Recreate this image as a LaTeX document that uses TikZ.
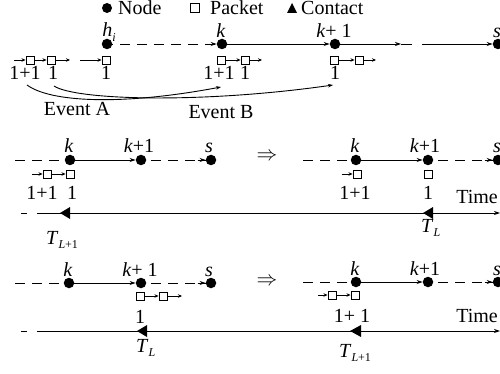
\documentclass[tikz,border=0pt]{standalone}
\usepackage{fontspec}
\setmainfont{Liberation Serif}
\usetikzlibrary{arrows.meta}
\newcommand{\mysub}[1]{\raisebox{-0.5ex}{\fontsize{12}{12}\selectfont #1}}
\begin{document}
\begin{tikzpicture}[x=1pt,y=-1pt,
  font=\fontsize{20}{22}\selectfont,
  nd/.style={circle,fill=black,inner sep=0pt,minimum size=10.5pt},
  pk/.style={draw,line width=0.9pt,fill=white,inner sep=0pt,minimum size=8pt},
  lnk/.style={line width=0.9pt,-{Stealth[length=6pt,width=4pt]}},
  plain/.style={line width=0.9pt},
  plk/.style={line width=0.8pt,-{Stealth[length=4pt,width=3.5pt]}},
  dsh/.style={line width=0.9pt,dash pattern=on 10pt off 7pt},
  lbl/.style={anchor=base,inner sep=0pt},
  lblw/.style={anchor=base west,inner sep=0pt},
  evt/.style={line width=0.9pt,-{Stealth[length=5pt,width=3.5pt]}}
]
\useasboundingbox (0,0) rectangle (500,374);

% ---------- legend ----------
\node[nd,minimum size=10pt] (lgn) at (107,8) {};
\node[lblw] (lgnt) at (118,15) {Node};
\node[pk,minimum size=8.5pt] (lgp) at (195,8) {};
\node[lblw] (lgpt) at (210,15) {Packet};
\coordinate (lgc) at (292,8);
\fill (292,3) -- (297,13) -- (287,13) -- cycle;
\node[lblw] (lgct) at (301,15) {Contact};

% ---------- row 1 ----------
\node[nd] (h) at (107,44) {};
\node[nd] (k) at (222,44) {};
\node[nd] (k1) at (335,44) {};
\node[nd] (s) at (498,44) {};
\node[lbl] (hl) at (109,37) {\textit{h}\mysub{\textit{i}}};
\node[lbl] (kl) at (221,38) {\textit{k}};
\node[lbl] (k1l) at (334,38) {\textit{k}+ 1};
\node[lbl] (sl) at (497,38) {\textit{s}};
\draw[dsh,dash phase=-8pt] (h) -- (k);
\draw[lnk] ([xshift=-8pt]k.west) -- (k);
\draw[lnk] (k) -- (k1);
\coordinate (m1) at (401,44);
\coordinate (m2) at (412,44);
\coordinate (m3) at (422,44);
\draw[lnk] (k1) -- (m1);
\draw[plain] (m1) -- (m2);
\draw[lnk] (m3) -- (s);

% packets row 1
\coordinate (a0) at (14,60);
\node[pk] (p1) at (30,60) {};
\node[pk] (p2) at (51,60) {};
\coordinate (a1) at (70,60);
\draw[plk] (a0) -- (p1);
\draw[plk] (p1) -- (p2);
\draw[plk] (p2) -- (a1);
\coordinate (a2) at (80,60);
\node[pk] (p3) at (106,60) {};
\draw[plk] (a2) -- (p3);
\node[pk] (p4) at (221.5,60) {};
\node[pk] (p5) at (245,60) {};
\coordinate (a3) at (262,60);
\draw[plk] (p4) -- (p5);
\draw[plk] (p5) -- (a3);
\node[pk] (p6) at (334,60) {};
\node[pk] (p7) at (359,60) {};
\coordinate (a4) at (376,60);
\draw[plk] (p6) -- (p7);
\draw[plk] (p7) -- (a4);

\node[lbl] (q1) at (25,80) {1+1};
\node[lbl] (q2) at (53,80) {1};
\node[lbl] (q3) at (106,80) {1};
\node[lbl] (q4) at (219,80) {1+1};
\node[lbl] (q5) at (245,80) {1};
\node[lbl] (q6) at (335,80) {1};

% events
\coordinate (ea0) at (27,85);
\coordinate (ea1) at (221,87);
\coordinate (eb0) at (54,86);
\coordinate (eb1) at (333,85);
\draw[evt] (ea0) .. controls (50,102) and (120,106) .. (ea1);
\draw[evt] (eb0) .. controls (75,100) and (200,104) .. (eb1);
\node[lbl] (evA) at (77,116) {Event A};
\node[lbl] (evB) at (221,119) {Event B};

% ---------- row 2 left ----------
\coordinate (d2) at (15,160);
\node[nd] (k2) at (70,160) {};
\node[nd] (k21) at (141,160) {};
\node[nd] (s2) at (211,160) {};
\node[lbl] (k2l) at (69,153) {\textit{k}};
\node[lbl] (k21l) at (139,153) {\textit{k}+1};
\node[lbl] (s2l) at (209,153) {\textit{s}};
\draw[dsh] (d2) -- (k2);
\draw[lnk] (k2) -- (k21);
\draw[dsh,dash phase=-5pt] (k21) -- (s2);
\draw[lnk] ([xshift=-8pt]s2.west) -- (s2);
\coordinate (b0) at (32,174);
\node[pk] (r1) at (47,174) {};
\node[pk] (r2) at (70,174) {};
\draw[plk] (b0) -- (r1);
\draw[plk] (r1) -- (r2);
\node[lbl] (r1l) at (42,200) {1+1};
\node[lbl] (r2l) at (72,200) {1};

\node (imp1) at (267,157) {$\Rightarrow$};

% ---------- row 2 right ----------
\coordinate (d3) at (303,160);
\node[nd] (k3) at (356,160) {};
\node[nd] (k31) at (428,160) {};
\node[nd] (s3) at (498,160) {};
\node[lbl] (k3l) at (355,153) {\textit{k}};
\node[lbl] (k31l) at (425,153) {\textit{k}+1};
\node[lbl] (s3l) at (497,153) {\textit{s}};
\draw[dsh] (d3) -- (k3);
\draw[lnk] (k3) -- (k31);
\draw[dsh,dash phase=-5pt] (k31) -- (s3);
\draw[lnk] ([xshift=-8pt]s3.west) -- (s3);
\coordinate (b1) at (342,174);
\node[pk] (r3) at (357,174) {};
\node[pk] (r4) at (428,174) {};
\draw[plk] (b1) -- (r3);
\node[lbl] (r3l) at (355,200) {1+1};
\node[lbl] (r4l) at (428,200) {1};
\node[lbl] (time1) at (477,203) {Time};

% time line 2
\coordinate (t0) at (21,213);
\coordinate (t1) at (27,213);
\coordinate (t2) at (37,213);
\coordinate (t3) at (500,213);
\draw[plain] (t0) -- (t1);
\draw[lnk] (t2) -- (t3);
\fill (60,213) -- (70,207) -- (70,219) -- cycle;
\fill (423,213) -- (433,207) -- (433,219) -- cycle;
\node[lblw] (TA) at (46,244) {\textit{T}\mysub{\textit{L}+1}};
\node[lblw] (TB) at (421,232) {\textit{T}\mysub{\textit{L}}};

% ---------- row 3 left ----------
\coordinate (d4) at (15,283);
\node[nd] (k4) at (69,283) {};
\node[nd] (k41) at (141,283) {};
\node[nd] (s4) at (211,283) {};
\node[lbl] (k4l) at (68,276) {\textit{k}};
\node[lbl] (k41l) at (140,276) {\textit{k}+ 1};
\node[lbl] (s4l) at (209,276) {\textit{s}};
\draw[dsh] (d4) -- (k4);
\draw[lnk] (k4) -- (k41);
\draw[dsh,dash phase=-5pt] (k41) -- (s4);
\draw[lnk] ([xshift=-8pt]s4.west) -- (s4);
\node[pk] (u1) at (140,296) {};
\node[pk] (u2) at (163,296) {};
\coordinate (c0) at (182,296);
\draw[plk] (u1) -- (u2);
\draw[plk] (u2) -- (c0);
\node[lbl] (u1l) at (140,323) {1};

\node (imp2) at (267,282) {$\Rightarrow$};

% ---------- row 3 right ----------
\coordinate (d5) at (303,282);
\node[nd] (k5) at (356,282) {};
\node[nd] (k51) at (428,282) {};
\node[nd] (s5) at (498,282) {};
\node[lbl] (k5l) at (355,275) {\textit{k}};
\node[lbl] (k51l) at (425,275) {\textit{k}+1};
\node[lbl] (s5l) at (497,275) {\textit{s}};
\draw[dsh] (d5) -- (k5);
\draw[lnk] (k5) -- (k51);
\draw[dsh,dash phase=-5pt] (k51) -- (s5);
\draw[lnk] ([xshift=-8pt]s5.west) -- (s5);
\coordinate (c1) at (318,295);
\node[pk] (u3) at (332,295) {};
\node[pk] (u4) at (355,295) {};
\draw[plk] (c1) -- (u3);
\draw[plk] (u3) -- (u4);
\node[lbl] (u3l) at (352,322) {1+ 1};
\node[lbl] (time2) at (477,322) {Time};

% time line 3
\coordinate (v0) at (21,331);
\coordinate (v1) at (27,331);
\coordinate (v2) at (37,331);
\coordinate (v3) at (500,331);
\draw[plain] (v0) -- (v1);
\draw[lnk] (v2) -- (v3);
\fill (137,331) -- (147,325) -- (147,337) -- cycle;
\fill (350,331) -- (361,325) -- (361,337) -- cycle;
\node[lblw] (TC) at (136,352) {\textit{T}\mysub{\textit{L}}};
\node[lblw] (TD) at (339,357) {\textit{T}\mysub{\textit{L}+1}};
\end{tikzpicture}
\end{document}
